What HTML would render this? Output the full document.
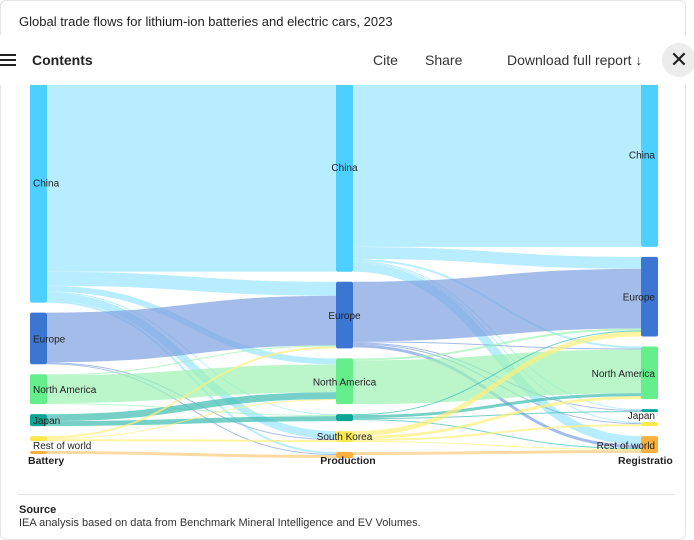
<!DOCTYPE html>
<html><head><meta charset="utf-8">
<style>
body{margin:0;width:694px;height:540px;overflow:hidden;background:#fff;font-family:"Liberation Sans",sans-serif;}
#card{position:absolute;left:0;top:0;width:684px;height:538px;border:1px solid #e4e4e4;border-radius:6px;}
svg{position:absolute;left:0;top:0;}
.nav{position:absolute;left:0;top:35px;width:694px;height:50px;background:#fff;}
</style></head><body>
<div id="card"></div>
<div style="position:absolute;left:19px;top:14px;font-size:13px;color:#222;">Global trade flows for lithium-ion batteries and electric cars, 2023</div>
<svg id="chart" width="694" height="540"></svg>
<div class="nav">
 <div style="position:absolute;left:0;top:19px;width:16px;">
  <div style="height:2px;background:#222;margin-bottom:3px"></div><div style="height:2px;background:#222;margin-bottom:3px"></div><div style="height:2px;background:#222"></div></div>
 <div style="position:absolute;left:32px;top:17px;font-size:14px;font-weight:bold;color:#222">Contents</div>
 <div style="position:absolute;left:373px;top:17px;font-size:14px;color:#333">Cite</div>
 <div style="position:absolute;left:425px;top:17px;font-size:14px;color:#333">Share</div>
 <div style="position:absolute;left:507px;top:17px;font-size:14px;color:#333">Download full report ↓</div>
 <div style="position:absolute;left:662px;top:8px;width:34px;height:34px;border-radius:17px;background:#ececec;text-align:center;line-height:34px;font-size:22px;color:#222">✕</div>
</div>
<div style="position:absolute;left:18px;top:494px;width:657px;border-top:1px solid #e0e0e0"></div>
<div style="position:absolute;left:19px;top:504px;font-size:11px;font-weight:bold;color:#222">Source</div>
<div style="position:absolute;left:19px;top:517px;font-size:11px;color:#333">IEA analysis based on data from Benchmark Mineral Intelligence and EV Volumes.</div>
<script>
const regions=["China","Europe","North America","Japan","South Korea","Rest of world"];
const columns=["Battery","Production","Registration"];
// battery -> production flows [source, target, value]
const flowsBP=[[0,0,211],[0,1,14],[0,2,6],[0,3,1],[0,4,8],[0,5,2],
 [1,1,50],[1,4,1],[1,5,1],
 [2,2,28],[2,1,1],[2,3,1],
 [3,2,7],[3,3,5],
 [4,1,2],[4,2,1],[4,4,2],
 [5,5,3]];
// production -> registration flows
const flowsPR=[[0,0,186],[0,1,12],[0,2,2],[0,3,1],[0,4,1],[0,5,9],
 [1,1,60],[1,2,1],[1,3,1],[1,4,1],[1,5,3],
 [2,2,44],[2,1,2],
 [3,2,3],[3,1,1],[3,3,1],[3,5,1],
 [4,1,5],[4,2,3],[4,4,2],[4,5,1],
 [5,5,3]];
const nodeCol=["#4dcfff","#3b76d3","#64ee8c","#0aa597","#fbe94a","#fbb03b"];
const linkCol=["#9ae6ff","#7d9fe0","#9cf2b3","#3cbcb0","#fdf07a","#fccb7a"];
const svg=document.getElementById('chart');const NS="http://www.w3.org/2000/svg";
const colX=[30,336,641],NW=17,TOP=62,GAP=10;
function sum(a){return a.reduce((s,v)=>s+v,0);}
const totals=[regions.map((r,i)=>sum(flowsBP.filter(f=>f[0]==i).map(f=>f[2]))),
 regions.map((r,i)=>Math.max(sum(flowsBP.filter(f=>f[1]==i).map(f=>f[2])),sum(flowsPR.filter(f=>f[0]==i).map(f=>f[2])))),
 regions.map((r,i)=>sum(flowsPR.filter(f=>f[1]==i).map(f=>f[2])))];
const maxT=Math.max(...totals.map(sum));
const k=(458-TOP-GAP*5)/maxT;
const ny=totals.map(t=>{let y=TOP;return t.map(v=>{const p=y;y+=v*k+GAP;return p;});});
function el(t,a,p){const e=document.createElementNS(NS,t);for(const x in a)e.setAttribute(x,a[x]);(p||svg).appendChild(e);return e;}
const gl=el('g',{});
function drawLinks(flows,c){
 const outOff=regions.map(()=>0),inOff=regions.map(()=>0);
 const sorted=flows.slice().sort((a,b)=>a[0]-b[0]||a[1]-b[1]);
 const inOrder=flows.slice().sort((a,b)=>a[1]-b[1]||a[0]-b[0]);
 const inPos=new Map();
 inOrder.forEach(f=>{inPos.set(f,ny[c+1][f[1]]+inOff[f[1]]);inOff[f[1]]+=f[2]*k;});
 sorted.forEach(f=>{
  const w=f[2]*k;const y0=ny[c][f[0]]+outOff[f[0]]+w/2;outOff[f[0]]+=w;
  const y1=inPos.get(f)+w/2;const x0=colX[c]+NW,x1=colX[c+1],mx=(x0+x1)/2;
  const p=el('path',{d:`M${x0},${y0}C${mx},${y0} ${mx},${y1} ${x1},${y1}`,fill:'none',stroke:linkCol[f[0]],'stroke-width':Math.max(w,0.6),'stroke-opacity':0.7},gl);
  
  
 });
}
drawLinks(flowsBP,0);drawLinks(flowsPR,1);
totals.forEach((t,c)=>t.forEach((v,i)=>{
 const r=el('rect',{x:colX[c],y:ny[c][i],width:NW,height:Math.max(v*k,2),rx:2,fill:nodeCol[i]});
 
 
 const cy=ny[c][i]+v*k/2+4;
 let lx,anchor,ly=cy;
 if(c==0){lx=33;anchor='start';}
 else if(c==1){lx=colX[1]+NW/2;anchor='middle';}
 else {lx=655;anchor='end';}
 if(c==0&&i==4)return; if(c==2&&i==4)return;
 if(c==1&&(i==5||i==3))return;
 if(c==0&&i==5)ly=449; if(c==1&&i==4)ly=440;
 if(c==2&&i==5)ly=449; if(c==2&&i==3)ly=419;
 const tx=el('text',{x:lx,y:ly,'text-anchor':anchor,'font-size':10,fill:'#222','font-family':'Liberation Sans, sans-serif'});
 tx.textContent=regions[i];
 
 
}));
[[28,'start'],[348,'middle'],[618,'start']].forEach((p,c)=>{
 const t=el('text',{x:p[0],y:464,'text-anchor':p[1],'font-size':10.5,'font-weight':'bold',fill:'#222'});
 t.textContent=c==2?'Registratio':columns[c];
 
 
});
</script>
</body></html>
